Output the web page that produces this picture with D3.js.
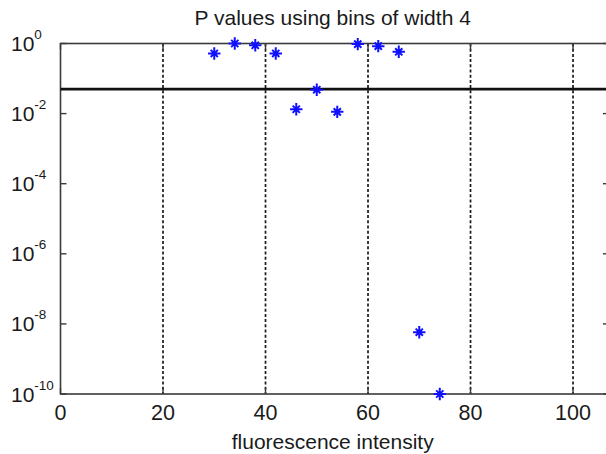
<!DOCTYPE html>
<html>
<head>
<meta charset="utf-8">
<script src="https://cdn.jsdelivr.net/npm/d3@7"></script>
<style>
  html, body { margin: 0; padding: 0; background: #fff; }
  svg { display: block; }
  text { font-family: "Liberation Sans", Arial, sans-serif; fill: #1a1a1a; }
</style>
</head>
<body>
<svg id="chart" width="606" height="454"></svg>
<script>
// Bin centres (fluorescence intensity) and the P value computed for each bin
const binCenters = [30, 34, 38, 42, 46, 50, 54, 58, 62, 66, 70, 74];
const pValues = [0.52, 1.0, 0.89, 0.52, 0.0133, 0.048, 0.0112, 0.96, 0.84, 0.58, 5.8e-9, 1e-10];
// Significance level drawn as a horizontal reference line
const threshold = 0.05;
// Axis ticks
const xTicks = [0, 20, 40, 60, 80, 100];
const yTickExponents = [0, -2, -4, -6, -8, -10];

const titleText = "P values using bins of width 4";
const xLabelText = "fluorescence intensity";

const svg = d3.select("#chart");

const x = d3.scaleLinear().domain([0, 107]).range([60.5, 608.9]);
const y = d3.scaleLog().domain([1e-10, 1]).range([394, 43.5]);

const boxLeft = x(0), boxRight = x(107), boxTop = y(1), boxBottom = y(1e-10);
const tickLen = 6;

// Vertical dashed grid at the x ticks
svg.append("g")
  .selectAll("line")
  .data(xTicks.filter(d => d > 0))
  .join("line")
  .attr("x1", d => x(d)).attr("x2", d => x(d))
  .attr("y1", boxTop).attr("y2", boxBottom)
  .attr("stroke", "#1a1a1a")
  .attr("stroke-width", 1.7)
  .attr("stroke-dasharray", "3,2.2");

// Axes box
const axisColor = "#3a3a3a";
svg.append("rect")
  .attr("x", boxLeft).attr("y", boxTop)
  .attr("width", boxRight - boxLeft).attr("height", boxBottom - boxTop)
  .attr("fill", "none")
  .attr("stroke", axisColor)
  .attr("stroke-width", 1.6);

// Inward tick marks on all four sides
const tickG = svg.append("g").attr("stroke", axisColor).attr("stroke-width", 1.4);
yTickExponents.forEach(e => {
  const yy = y(Math.pow(10, e));
  tickG.append("line").attr("x1", boxLeft).attr("x2", boxLeft + tickLen).attr("y1", yy).attr("y2", yy);
  tickG.append("line").attr("x1", boxRight - tickLen).attr("x2", boxRight).attr("y1", yy).attr("y2", yy);
});
xTicks.forEach(v => {
  const xx = x(v);
  tickG.append("line").attr("x1", xx).attr("x2", xx).attr("y1", boxBottom).attr("y2", boxBottom - tickLen);
  tickG.append("line").attr("x1", xx).attr("x2", xx).attr("y1", boxTop).attr("y2", boxTop + tickLen);
});

// Significance threshold
svg.append("line")
  .attr("x1", boxLeft).attr("x2", boxRight)
  .attr("y1", y(threshold)).attr("y2", y(threshold))
  .attr("stroke", "#111")
  .attr("stroke-width", 2.8);

// Asterisk markers ('*' style: plus and cross overlaid)
function asterisk(r, d) {
  return `M${-r},0H${r}M0,${-r}V${r}M${-d},${-d}L${d},${d}M${-d},${d}L${d},${-d}`;
}
const points = binCenters.map((b, i) => ({ b, p: pValues[i] }));
svg.append("g")
  .selectAll("path")
  .data(points)
  .join("path")
  .attr("transform", d => `translate(${x(d.b)},${y(d.p)})`)
  .attr("d", asterisk(6.2, 3.6))
  .attr("fill", "none")
  .attr("stroke", "#1010ff")
  .attr("stroke-width", 2);

// X tick labels
svg.append("g")
  .selectAll("text")
  .data(xTicks)
  .join("text")
  .attr("x", d => x(d))
  .attr("y", 419.5)
  .attr("text-anchor", "middle")
  .attr("font-size", 21.5)
  .text(d => d);

// Y tick labels: 10 with a superscript exponent
const yLab = svg.append("g")
  .selectAll("text")
  .data(yTickExponents)
  .join("text")
  .attr("x", 11)
  .attr("y", d => y(Math.pow(10, d)) + 7.5)
  .attr("font-size", 21);
yLab.append("tspan").text("10");
yLab.append("tspan")
  .attr("font-size", 13.5)
  .attr("dy", -12)
  .text(d => String(d));

// Title and axis label
svg.append("text")
  .attr("x", (boxLeft + boxRight) / 2 - 2)
  .attr("y", 25)
  .attr("text-anchor", "middle")
  .attr("font-size", 21)
  .text(titleText);

svg.append("text")
  .attr("x", (boxLeft + boxRight) / 2 - 2)
  .attr("y", 449)
  .attr("text-anchor", "middle")
  .attr("font-size", 21)
  .text(xLabelText);
</script>
</body>
</html>
